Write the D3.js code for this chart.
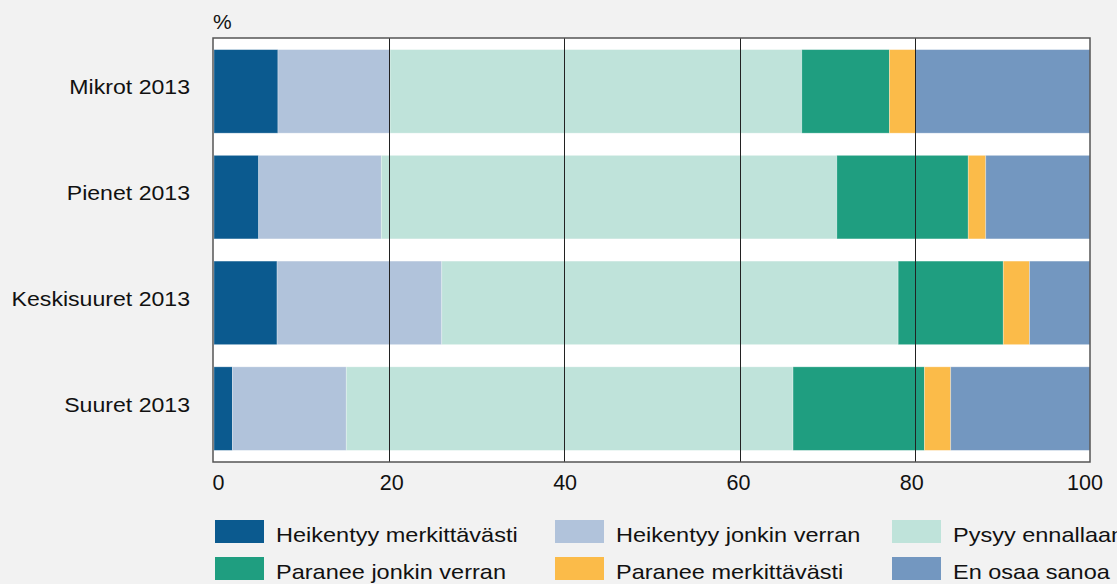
<!DOCTYPE html>
<meta charset="utf-8">
<script src="https://d3js.org/d3.v7.min.js"></script>
<style>
 body { margin: 0; background: #f2f2f2; font-family: 'Liberation Sans', Arial, sans-serif; }
</style>
<div id="chart"></div>
<script>
 // data
 const categories = ["Mikrot 2013", "Pienet 2013", "Keskisuuret 2013", "Suuret 2013"];
 const series = ["Heikentyy merkittävästi", "Heikentyy jonkin verran", "Pysyy ennallaan",
                 "Paranee jonkin verran", "Paranee merkittävästi", "En osaa sanoa"];
 const heikMerk   = [7.3, 5.1, 7.2, 2.1];
 const heikJonk   = [12.8, 14.0, 18.8, 13.0];
 const pysyy      = [47.0, 52.0, 52.1, 51.0];
 const parJonk    = [10.0, 15.0, 12.0, 15.0];
 const parMerk    = [3.0, 2.0, 3.0, 3.0];
 const enOsaa     = [19.9, 11.9, 6.9, 15.9];
 const xTicks = [0, 20, 40, 60, 80, 100];
 const colors = ["#0b5a8f", "#b1c3db", "#bfe3da", "#1f9e80", "#fbbb49", "#7397c0"];

 const W = 1117, H = 584;
 const plot = {left: 213, right: 1090, top: 38, bottom: 462};
 const stretch = 1.12; // source text is a bit wider than Arial

 const rows = categories.map((c, i) => ({
   cat: c,
   [series[0]]: heikMerk[i], [series[1]]: heikJonk[i], [series[2]]: pysyy[i],
   [series[3]]: parJonk[i], [series[4]]: parMerk[i], [series[5]]: enOsaa[i]
 }));

 const svg = d3.select("#chart").append("svg")
   .attr("width", W).attr("height", H)
   .style("background", "#f2f2f2");

 const x = d3.scaleLinear().domain([0, 100]).range([plot.left + 1, plot.right]);
 // tick labels sit slightly inside the gridlines in the source
 const xLab = d3.scaleLinear().domain([0, 100]).range([218, 1084.5]);
 const y = d3.scaleBand().domain(categories)
   .range([plot.top, plot.bottom]).paddingInner(0.21).paddingOuter(0.11);

 // plot background
 svg.append("rect")
   .attr("x", plot.left).attr("y", plot.top)
   .attr("width", plot.right - plot.left).attr("height", plot.bottom - plot.top)
   .attr("fill", "#fff");

 const stacked = d3.stack().keys(series)(rows);

 svg.append("g").selectAll("g")
   .data(stacked)
   .join("g")
   .attr("fill", (d, i) => colors[i])
   .selectAll("rect")
   .data(d => d)
   .join("rect")
   .attr("x", d => x(d[0]))
   .attr("y", d => y(d.data.cat))
   .attr("width", d => x(d[1]) - x(d[0]))
   .attr("height", y.bandwidth())
   .attr("stroke", "#fff").attr("stroke-opacity", 0.35).attr("stroke-width", 0.8);

 // gridlines over bars
 svg.append("g").selectAll("line")
   .data(xTicks.filter(t => t > 0 && t < 100))
   .join("line")
   .attr("x1", d => Math.round(x(d)) + 0.5).attr("x2", d => Math.round(x(d)) + 0.5)
   .attr("y1", plot.top).attr("y2", plot.bottom)
   .attr("stroke", "#222").attr("stroke-width", 1);

 // frame
 svg.append("rect")
   .attr("x", plot.left).attr("y", plot.top)
   .attr("width", plot.right - plot.left).attr("height", plot.bottom - plot.top)
   .attr("fill", "none").attr("stroke", "#555").attr("stroke-width", 1.5);

 // x axis
 const xAxis = svg.append("g")
   .attr("transform", `translate(0,${plot.bottom})`)
   .call(d3.axisBottom(xLab).tickValues(xTicks).tickSize(0).tickPadding(13));
 xAxis.select(".domain").remove();
 xAxis.selectAll("text")
   .style("font-family", "'Liberation Sans', Arial, sans-serif")
   .style("font-size", "21.5px").attr("fill", "#111");

 // y labels
 svg.append("g").selectAll("g")
   .data(categories)
   .join("g")
   .attr("transform", d => `translate(190,${y(d) + y.bandwidth() / 2 + 3}) scale(1.1,1)`)
   .append("text")
   .attr("text-anchor", "end")
   .style("font-size", "21px").attr("fill", "#111")
   .text(d => d);

 svg.append("text").attr("x", 213).attr("y", 29)
   .style("font-size", "21px").attr("fill", "#111").text("%");

 // legend
 const legX = [215, 555, 892];
 const legY = [520, 557];
 const leg = svg.append("g").selectAll("g")
   .data(series)
   .join("g")
   .attr("transform", (d, i) => `translate(${legX[i % 3]},${legY[Math.floor(i / 3)]})`);
 leg.append("rect").attr("width", 49).attr("height", 23).attr("fill", (d, i) => colors[i]);
 leg.append("text")
   .attr("transform", `translate(61,21.5) scale(${stretch},1)`)
   .style("font-size", "21px").attr("fill", "#111").text(d => d);
</script>
